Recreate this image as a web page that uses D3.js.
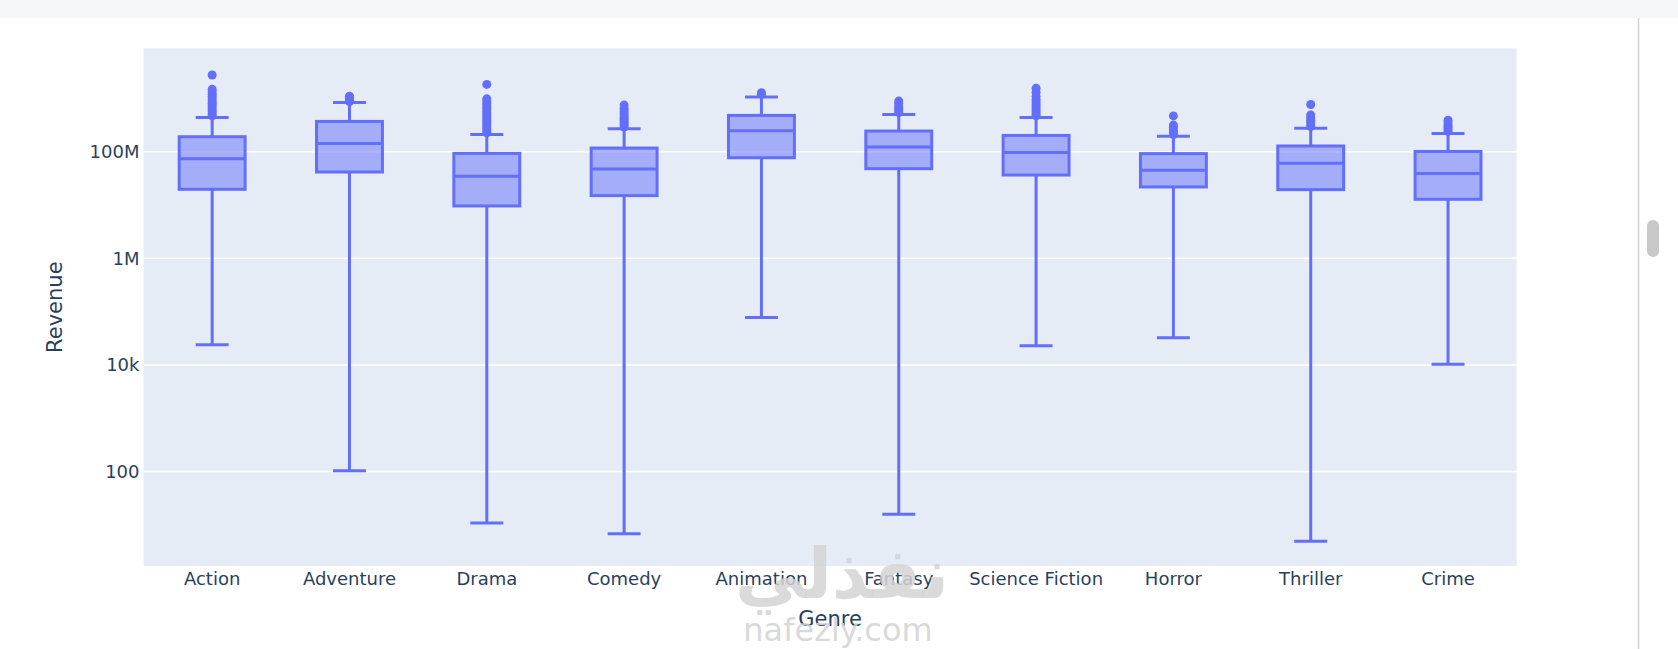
<!DOCTYPE html>
<html>
<head>
<meta charset="utf-8">
<script src="https://cdn.jsdelivr.net/npm/d3@7"></script>
<style>
  body { margin: 0; background: #ffffff; overflow: hidden; }
  #vis svg { display: block; }
</style>
</head>
<body>
<div id="vis"></div>
<script>
const GENRES = ["Action", "Adventure", "Drama", "Comedy", "Animation", "Fantasy", "Science Fiction", "Horror", "Thriller", "Crime"];

// box statistics (revenue, log axis)
const LOWER_FENCE = [23900, 103, 10.8, 6.8, 77600, 15.8, 22900, 32400, 4.9, 10300];
const Q1 = [1.97e7, 4.16e7, 9.6e6, 1.5e7, 7.7e7, 4.8e7, 3.65e7, 2.18e7, 1.94e7, 1.28e7];
const MEDIAN = [7.39e7, 1.43e8, 3.45e7, 4.73e7, 2.48e8, 1.22e8, 9.7e7, 4.5e7, 6.04e7, 3.9e7];
const Q3 = [1.91e8, 3.7e8, 9.3e7, 1.17e8, 4.8e8, 2.44e8, 2.02e8, 9.2e7, 1.28e8, 1.01e8];
const UPPER_FENCE = [4.4e8, 8.4e8, 2.1e8, 2.7e8, 1.06e9, 5e8, 4.4e8, 1.94e8, 2.74e8, 2.2e8];

const OUTLIERS = [
  [4.7e8, 5.1e8, 5.6e8, 6.1e8, 6.7e8, 7.4e8, 8.1e8, 8.9e8, 9.8e8, 1.08e9, 1.2e9, 1.33e9, 1.48e9, 2.75e9],
  [8.7e8, 9.3e8, 1.0e9, 1.05e9, 1.1e9],
  [2.25e8, 2.45e8, 2.7e8, 2.95e8, 3.25e8, 3.6e8, 3.95e8, 4.35e8, 4.8e8, 5.3e8, 5.85e8, 6.5e8, 7.2e8, 8.0e8, 8.9e8, 9.8e8, 1.83e9],
  [2.9e8, 3.2e8, 3.5e8, 3.85e8, 4.25e8, 4.7e8, 5.2e8, 5.8e8, 6.5e8, 7.5e8],
  [1.2e9, 1.28e9],
  [5.4e8, 5.9e8, 6.5e8, 7.2e8, 8.0e8, 8.9e8],
  [4.7e8, 5.1e8, 5.6e8, 6.2e8, 6.9e8, 7.7e8, 8.6e8, 9.6e8, 1.1e9, 1.3e9, 1.55e9],
  [2.1e8, 2.3e8, 2.55e8, 2.85e8, 3.16e8, 4.7e8],
  [2.95e8, 3.2e8, 3.55e8, 3.9e8, 4.35e8, 4.87e8, 7.7e8],
  [2.4e8, 2.6e8, 2.85e8, 3.1e8, 3.5e8, 3.9e8]
];

const Y_TICKS = [100, 1e4, 1e6, 1e8];
const Y_TICK_LABELS = ["100", "10k", "1M", "100M"];

const WIDTH = 1678;
const HEIGHT = 649;
const PLOT = { left: 143.5, right: 1516.7, top: 48.3, bottom: 566 };

const COLOR = "#636efa";
const FILL = "rgba(99,110,250,0.5)";
const TEXT = "#2a3f5f";
const FONT = "'DejaVu Sans', Verdana, sans-serif";

const data = GENRES.map((g, i) => ({
  genre: g,
  lo: LOWER_FENCE[i], q1: Q1[i], med: MEDIAN[i], q3: Q3[i], hi: UPPER_FENCE[i],
  out: OUTLIERS[i]
}));

const x = d3.scaleBand(GENRES, [PLOT.left, PLOT.right]);
const y = d3.scaleLog([Math.pow(10, 0.227), Math.pow(10, 9.94)], [PLOT.bottom, PLOT.top]);

const BOX_W = x.bandwidth() * 0.48;
const CAP_W = BOX_W * 0.5;

const svg = d3.select("#vis")
              .append("svg")
                .attr("width", WIDTH)
                .attr("height", HEIGHT);

// page chrome
svg.append("rect")
     .attr("width", WIDTH).attr("height", 18)
     .attr("fill", "#f6f7f9");
svg.append("line")
     .attr("x1", 1638.5).attr("x2", 1638.5)
     .attr("y1", 18).attr("y2", HEIGHT)
     .attr("stroke", "#d2d2d2").attr("stroke-width", 1.5);
svg.append("rect")
     .attr("x", 1647).attr("y", 220)
     .attr("width", 12).attr("height", 37).attr("rx", 6)
     .attr("fill", "#c8c8c8");

// plot background
svg.append("rect")
     .attr("x", PLOT.left).attr("y", PLOT.top)
     .attr("width", PLOT.right - PLOT.left)
     .attr("height", PLOT.bottom - PLOT.top)
     .attr("fill", "#E5ECF6");

svg.append("g")
   .selectAll("line")
   .data(Y_TICKS)
   .enter()
   .append("line")
     .attr("x1", PLOT.left).attr("x2", PLOT.right)
     .attr("y1", d => y(d)).attr("y2", d => y(d))
     .attr("stroke", "#ffffff").attr("stroke-width", 1.5);

// axes
const yAxis = d3.axisLeft(y)
                .tickValues(Y_TICKS)
                .tickFormat((d, i) => Y_TICK_LABELS[i])
                .tickSize(0)
                .tickPadding(4);

const xAxis = d3.axisBottom(x).tickSize(0).tickPadding(6);

const gy = svg.append("g")
     .attr("transform", `translate(${PLOT.left}, 0)`)
     .call(yAxis);

const gx = svg.append("g")
     .attr("transform", `translate(0, ${PLOT.bottom})`)
     .call(xAxis);

[gx, gy].forEach(g => {
  g.select(".domain").remove();
  g.selectAll("text")
     .attr("fill", TEXT)
     .style("font-family", FONT)
     .style("font-size", "18px");
});

svg.append("text")
     .attr("x", (PLOT.left + PLOT.right) / 2)
     .attr("y", 626)
     .attr("text-anchor", "middle")
     .attr("fill", TEXT)
     .style("font-family", FONT)
     .style("font-size", "21px")
     .text("Genre");

svg.append("text")
     .attr("transform", `translate(62, ${(PLOT.top + PLOT.bottom) / 2}) rotate(-90)`)
     .attr("text-anchor", "middle")
     .attr("fill", TEXT)
     .style("font-family", FONT)
     .style("font-size", "21px")
     .text("Revenue");

// boxes
const boxes = svg.append("g")
   .selectAll("g")
   .data(data)
   .enter()
   .append("g")
     .attr("transform", d => `translate(${x(d.genre) + x.bandwidth() / 2}, 0)`);

boxes.append("line")
     .attr("y1", d => y(d.lo)).attr("y2", d => y(d.q1))
     .attr("stroke", COLOR).attr("stroke-width", 3);
boxes.append("line")
     .attr("y1", d => y(d.q3)).attr("y2", d => y(d.hi))
     .attr("stroke", COLOR).attr("stroke-width", 3);

boxes.selectAll(".cap")
     .data(d => [d.lo, d.hi])
     .enter()
     .append("line")
       .attr("class", "cap")
       .attr("x1", -CAP_W / 2).attr("x2", CAP_W / 2)
       .attr("y1", v => y(v)).attr("y2", v => y(v))
       .attr("stroke", COLOR).attr("stroke-width", 3);

boxes.append("rect")
     .attr("x", -BOX_W / 2)
     .attr("width", BOX_W)
     .attr("y", d => y(d.q3))
     .attr("height", d => y(d.q1) - y(d.q3))
     .attr("fill", FILL)
     .attr("stroke", COLOR).attr("stroke-width", 3);

boxes.append("line")
     .attr("x1", -BOX_W / 2).attr("x2", BOX_W / 2)
     .attr("y1", d => y(d.med)).attr("y2", d => y(d.med))
     .attr("stroke", COLOR).attr("stroke-width", 3);

boxes.selectAll("circle")
     .data(d => d.out)
     .enter()
     .append("circle")
       .attr("cy", v => y(v))
       .attr("r", 4.5)
       .attr("fill", COLOR);

// watermark
svg.append("text")
     .attr("x", 842).attr("y", 598)
     .attr("text-anchor", "middle")
     .attr("fill", "#d3d3d3").attr("fill-opacity", 0.85)
     .style("font-family", "'DejaVu Sans', sans-serif")
     .style("font-weight", "bold")
     .style("font-size", "70px")
     .text("نفذلي");

svg.append("text")
     .attr("x", 838).attr("y", 641)
     .attr("text-anchor", "middle")
     .attr("fill", "#d3d3d3").attr("fill-opacity", 0.85)
     .style("font-family", "'DejaVu Sans', sans-serif")
     .style("font-size", "32px")
     .text("nafezly.com");
</script>
</body>
</html>
